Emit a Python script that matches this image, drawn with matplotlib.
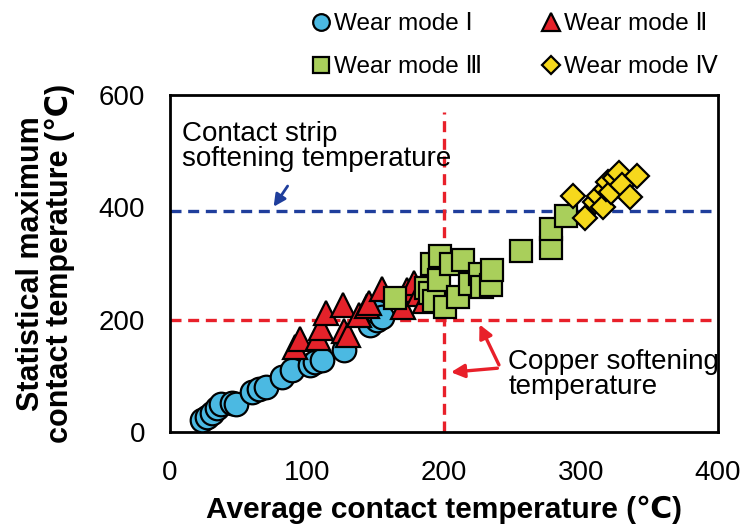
import matplotlib
matplotlib.use("Agg")
import matplotlib.pyplot as plt
from matplotlib.lines import Line2D

# ---------------- data ----------------
mode1_x = [23, 27, 31, 34, 37, 45, 48, 60, 65, 70, 82, 89, 102, 106, 111, 127, 146, 151, 151, 155]
mode1_y = [21, 27, 34, 43, 50, 51, 50, 71, 76, 80, 98, 110, 119, 124, 128, 146, 190, 199, 213, 205]

mode2_x = [91, 95, 108, 110, 114, 126, 127, 130, 138, 144, 145, 155, 170, 173, 178, 182, 186]
mode2_y = [152, 165, 168, 185, 212, 226, 180, 172, 208, 224, 230, 255, 222, 252, 266, 246, 234]

mode3_x = [164, 187, 190, 191, 193, 196, 197, 201, 205, 210, 214, 219, 226, 228, 234, 235, 256, 278, 278, 289]
mode3_y = [238, 257, 247, 300, 234, 270, 314, 222, 300, 240, 307, 264, 282, 258, 262, 288, 323, 328, 362, 385]

mode4_x = [294, 303, 310, 313, 316, 318, 320, 322, 325, 328, 330, 336, 341]
mode4_y = [420, 381, 410, 420, 400, 432, 445, 428, 452, 462, 440, 418, 456]

labels = ["Wear mode Ⅰ", "Wear mode Ⅱ", "Wear mode Ⅲ", "Wear mode Ⅳ"]
copper_soft = 200
strip_soft = 393
x_ticks = [0, 100, 200, 300, 400]
y_ticks = [0, 200, 400, 600]

# ---------------- style ----------------
fam = ["Liberation Sans", "DejaVu Sans"]
plt.rcParams["font.family"] = fam

fig = plt.figure(figsize=(7.45, 5.31), dpi=100)
ax = fig.add_axes([170/745, 1-432/531, 548/745, 337/531])

c1, c2, c3, c4 = "#4BB9E2", "#E4222A", "#A9CF5B", "#F6D81C"
ew = 1.6

# reference lines
ax.axhline(strip_soft, color="#1F3E9C", lw=2.4, ls=(0, (3.3, 2.0)), zorder=1)
ax.axhline(copper_soft, color="#E8202A", lw=2.4, ls=(0, (3.3, 2.0)), zorder=1)
ax.vlines(copper_soft, 0, 570, color="#E8202A", lw=2.4, ls=(0, (3.3, 2.0)), zorder=1)

ax.plot(mode1_x, mode1_y, "o", ms=17, mfc=c1, mec="black", mew=ew, ls="none", zorder=3)
ax.plot(mode2_x, mode2_y, "^", ms=17.5, mfc=c2, mec="black", mew=ew, ls="none", zorder=4)
ax.plot(mode3_x, mode3_y, "s", ms=15.5, mfc=c3, mec="black", mew=ew, ls="none", zorder=5)
ax.plot(mode4_x, mode4_y, "D", ms=12, mfc=c4, mec="black", mew=ew, ls="none", zorder=6)

ax.set_xlim(0, 400)
ax.set_ylim(0, 600)
ax.set_xticks(x_ticks)
ax.set_yticks(y_ticks)
ax.tick_params(length=0, labelsize=20, pad=18)
ax.tick_params(axis="x", pad=20)
for sp in ax.spines.values():
    sp.set_linewidth(2)
    sp.set_color("black")

ax.set_xlabel("Average contact temperature (℃)", fontsize=21.5, fontweight="bold", labelpad=7)
ax.set_ylabel("Statistical maximum\ncontact temperature (℃)", fontsize=22, fontweight="bold",
              labelpad=17, linespacing=0.95)

# annotations
ax.text(9, 509, "Contact strip\nsoftening temperature", fontsize=20, va="center", ha="left",
        linespacing=0.95)
ax.annotate("", xy=(74.5, 397), xytext=(87, 442),
            arrowprops=dict(arrowstyle="-|>", color="#1F3E9C", lw=2, mutation_scale=18))
ax.text(247, 103, "Copper softening\ntemperature", fontsize=20, va="center", ha="left",
        linespacing=0.95)
ax.annotate("", xy=(225, 196), xytext=(241, 115),
            arrowprops=dict(arrowstyle="-|>", color="#E8202A", lw=2.4, mutation_scale=20))
ax.annotate("", xy=(203, 106), xytext=(241, 114),
            arrowprops=dict(arrowstyle="-|>", color="#E8202A", lw=2.4, mutation_scale=20))

# legend
handles = [
    Line2D([], [], marker="o", ms=12, mfc=c1, mec="black", mew=1.6, ls="none"),
    Line2D([], [], marker="s", ms=12, mfc=c3, mec="black", mew=1.6, ls="none"),
    Line2D([], [], marker="^", ms=13, mfc=c2, mec="black", mew=1.6, ls="none"),
    Line2D([], [], marker="D", ms=9, mfc=c4, mec="black", mew=1.6, ls="none"),
]
leg_labels = [labels[0], labels[2], labels[1], labels[3]]
fig.legend(handles, leg_labels, ncol=2, loc="upper left", bbox_to_anchor=(298/745, 1.0),
           frameon=False, prop=dict(family=fam, size=17.5), handlelength=0.8,
           handletextpad=0.15, columnspacing=2.4, labelspacing=0.85, borderaxespad=0.15)

fig.savefig("out.png", dpi=100)
